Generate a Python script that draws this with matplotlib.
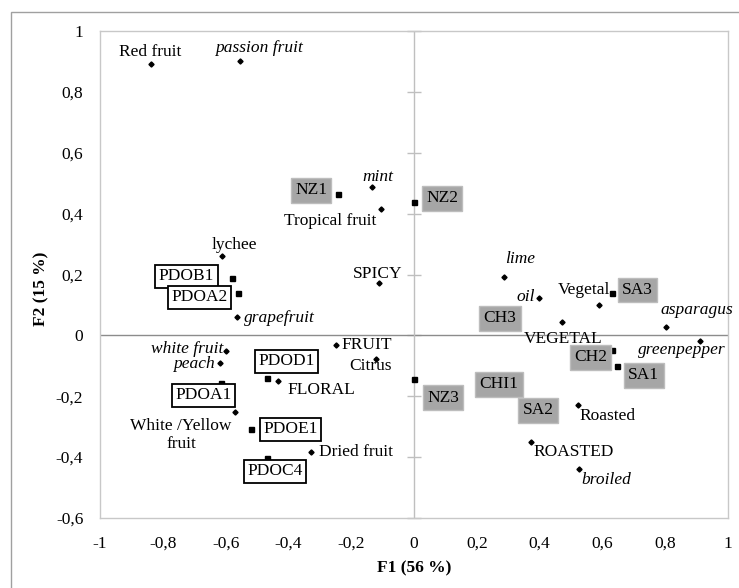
import matplotlib
matplotlib.use("Agg")
import matplotlib.pyplot as plt
from matplotlib.patches import Rectangle

plt.rcParams['font.family'] = ['Liberation Serif', 'DejaVu Serif']

# descriptors (small diamond dots)
DESC_NAMES = ["Red fruit", "passion fruit", "mint", "Tropical fruit", "lychee",
              "grapefruit", "SPICY", "lime", "oil", "Vegetal", "asparagus",
              "VEGETAL", "greenpepper", "FRUIT", "Citrus", "white fruit", "peach",
              "FLORAL", "White /Yellow\nfruit", "Dried fruit", "Roasted",
              "ROASTED", "broiled"]
DESC_X = [-0.838, -0.554, -0.134, -0.105, -0.610, -0.564, -0.113, 0.287, 0.398,
          0.589, 0.803, 0.471, 0.911, -0.247, -0.121, -0.599, -0.618, -0.433,
          -0.570, -0.329, 0.521, 0.373, 0.526]
DESC_Y = [0.890, 0.903, 0.486, 0.414, 0.260, 0.062, 0.171, 0.191, 0.123, 0.099,
          0.028, 0.043, -0.020, -0.033, -0.079, -0.051, -0.092, -0.150, -0.252,
          -0.383, -0.228, -0.351, -0.438]
ITALIC = ["passion fruit", "mint", "grapefruit", "lime", "oil", "asparagus",
          "greenpepper", "white fruit", "peach", "broiled"]

# samples (squares)
SAMPLE_NAMES = ["NZ1", "NZ2", "NZ3", "PDOB1", "PDOA2", "PDOD1", "PDOA1", "PDOE1",
                "PDOC4", "SA3", "CH3", "CH2", "SA1", "CHI1", "SA2"]
SAMPLE_X = [-0.242, 0.0, 0.0, -0.581, -0.560, -0.469, -0.615, -0.520, -0.469,
            0.632, 0.274, 0.632, 0.646, 0.270, 0.395]
SAMPLE_Y = [0.463, 0.437, -0.142, 0.188, 0.139, -0.141, -0.157, -0.309, -0.403,
            0.139, 0.056, -0.049, -0.102, -0.161, -0.246]

XTICKS = [-1, -0.8, -0.6, -0.4, -0.2, 0, 0.2, 0.4, 0.6, 0.8, 1]
YTICKS = [-0.6, -0.4, -0.2, 0, 0.2, 0.4, 0.6, 0.8, 1]

# label placement (offset in pixels, horizontal alignment)
DESC_OFF = {
    "Red fruit": (-1, 12, "center"), "passion fruit": (19, 13, "center"),
    "mint": (6, 10, "center"), "Tropical fruit": (-51, -12, "center"),
    "lychee": (12, 11, "center"), "grapefruit": (7, -1, "left"),
    "SPICY": (-1, 9, "center"), "lime": (16, 18, "center"),
    "oil": (-4, 1, "right"), "Vegetal": (-15, 15, "center"),
    "asparagus": (31, 17, "center"), "VEGETAL": (1, -17, "center"),
    "greenpepper": (-18, -9, "center"), "FRUIT": (5, 0, "left"),
    "Citrus": (-6, -7, "center"), "white fruit": (-3, 2, "right"),
    "peach": (-5, -1, "right"), "FLORAL": (9, -9, "left"),
    "White /Yellow\nfruit": (-54, -23, "center"), "Dried fruit": (8, 0, "left"),
    "Roasted": (2, -11, "left"), "ROASTED": (2, -10, "left"),
    "broiled": (2, -11, "left"),
}
SAMPLE_OFF = {
    "NZ1": (-27, 4), "NZ2": (28, 4), "NZ3": (29, -19), "PDOB1": (-45, 2),
    "PDOA2": (-39, -4), "PDOD1": (20, 17), "PDOA1": (-17, -12), "PDOE1": (40, 0),
    "PDOC4": (8, -13), "SA3": (25, 3), "CH3": (0, 0), "CH2": (-22, -7),
    "SA1": (27, -9), "CHI1": (0, 0), "SA2": (0, 0),
}

FS = 12.5


def main():
    fig = plt.figure(figsize=(7.39, 5.88), dpi=100)
    ax = fig.add_axes([100 / 739, 70 / 588, 628 / 739, 487 / 588])

    # outer frame
    fig.patches.append(Rectangle((11 / 739, -0.1), 1.2, (588 - 12) / 588 + 0.1,
                                 transform=fig.transFigure, fill=False,
                                 ec="#a0a0a0", lw=1.0))

    ax.set_xlim(-1, 1)
    ax.set_ylim(-0.6, 1)
    for s in ax.spines.values():
        s.set_color("#c8c8c8")
        s.set_linewidth(1.0)

    ax.set_xticks(XTICKS)
    ax.set_yticks(YTICKS)
    ax.set_xticklabels([("%g" % t).replace(".", ",") for t in XTICKS])
    ax.set_yticklabels([("%g" % t).replace(".", ",") for t in YTICKS])
    ax.tick_params(axis="x", length=0, pad=13, labelsize=FS)
    ax.tick_params(axis="y", length=0, pad=12, labelsize=FS)

    # axis lines through the origin
    ax.axhline(0, color="#8c8c8c", lw=1.0, zorder=1)
    ax.axvline(0, color="#bfbfbf", lw=1.0, zorder=1)
    sec = ax.secondary_yaxis(0.5)
    for s in sec.spines.values():
        s.set_visible(False)
    sec.set_yticks(YTICKS)
    sec.set_yticklabels([])
    sec.tick_params(direction="out", length=5, width=1.0, color="#bfbfbf",
                    left=True, right=True, labelleft=False, labelright=False)

    ax.plot(DESC_X, DESC_Y, "D", color="black", ms=2.6, zorder=3)
    ax.plot(SAMPLE_X, SAMPLE_Y, "s", color="black", ms=3.6, zorder=3)

    for name, x, y in zip(DESC_NAMES, DESC_X, DESC_Y):
        dx, dy, ha = DESC_OFF[name]
        ax.annotate(name, (x, y), xytext=(dx, dy), textcoords="offset pixels",
                    ha=ha, va="center", fontsize=FS, multialignment="center",
                    style="italic" if name in ITALIC else "normal", zorder=4)

    for name, x, y in zip(SAMPLE_NAMES, SAMPLE_X, SAMPLE_Y):
        dx, dy = SAMPLE_OFF[name]
        if name.startswith("PDO"):
            box = dict(boxstyle="square,pad=0.2", fc="white", ec="black", lw=1.3)
        else:
            box = dict(boxstyle="square,pad=0.25", fc="#a6a6a6", ec="#bdbdbd", lw=1.0)
        ax.annotate(name, (x, y), xytext=(dx, dy), textcoords="offset pixels",
                    ha="center", va="center", fontsize=FS, bbox=box, zorder=5)

    ax.set_xlabel("F1 (56 %)", fontsize=FS, fontweight="bold", labelpad=6)
    ax.set_ylabel("F2 (15 %)", fontsize=FS, fontweight="bold")
    ax.yaxis.set_label_coords(-0.08, 0.47)

    fig.savefig("out.png", dpi=100)
    plt.close(fig)


if __name__ == "__main__":
    main()
